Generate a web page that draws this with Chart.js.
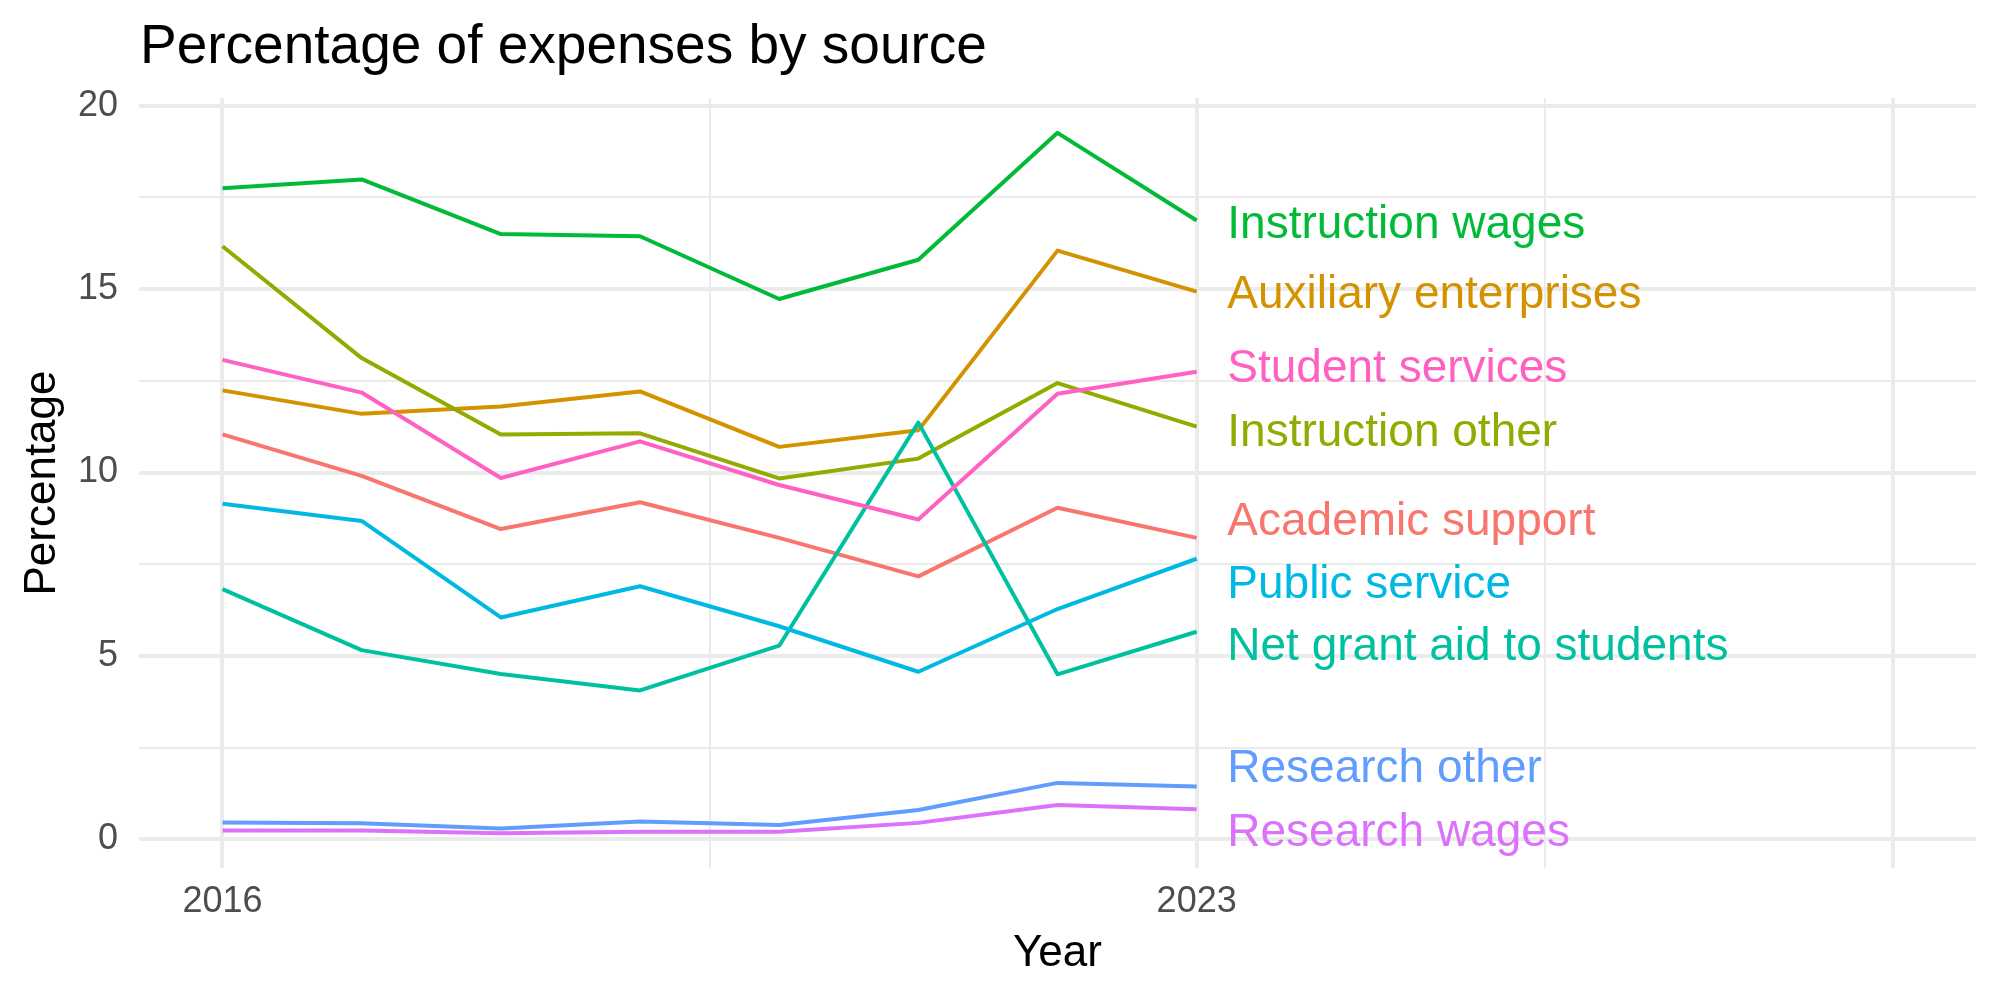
<!DOCTYPE html>
<html lang="en">
<head>
  <meta charset="UTF-8">
  <title>Percentage of expenses by source</title>
  <script src="https://cdn.jsdelivr.net/npm/chart.js"></script>
  <style>
    html, body { margin: 0; padding: 0; background: #ffffff; }
    #wrap { width: 2000px; height: 1000px; }
  </style>
</head>
<body>
  <div id="wrap">
    <canvas id="expenseChart" width="2000" height="1000"></canvas>
  </div>

  <script>
    // data
    const years = [2016, 2017, 2018, 2019, 2020, 2021, 2022, 2023];
    const sources = ['Academic support', 'Auxiliary enterprises', 'Instruction other', 'Instruction wages',
      'Net grant aid to students', 'Public service', 'Research other', 'Research wages', 'Student services'];

    const academicSupport      = [11.04, 9.91, 8.46, 9.19, 8.22, 7.17, 9.04, 8.22];
    const auxiliaryEnterprises = [12.24, 11.60, 11.80, 12.21, 10.70, 11.15, 16.05, 14.93];
    const instructionOther     = [16.17, 13.12, 11.04, 11.07, 9.84, 10.38, 12.44, 11.25];
    const instructionWages     = [17.75, 17.99, 16.50, 16.44, 14.73, 15.80, 19.26, 16.87];
    const netGrantAid          = [6.82, 5.16, 4.51, 4.06, 5.28, 11.36, 4.50, 5.66];
    const publicService        = [9.15, 8.68, 6.05, 6.90, 5.81, 4.57, 6.28, 7.65];
    const researchOther        = [0.46, 0.44, 0.30, 0.49, 0.39, 0.80, 1.54, 1.44];
    const researchWages        = [0.24, 0.24, 0.17, 0.21, 0.21, 0.45, 0.94, 0.82];
    const studentServices      = [13.07, 12.18, 9.85, 10.85, 9.66, 8.72, 12.15, 12.75];

    // where the end labels sit (pushed apart so they don't overlap)
    const labelValues = [8.75, 14.93, 11.18, 16.84, 5.34, 7.04, 2.00, 0.28, 12.93];
    const labelYear = 2023.22;

    // axis breaks
    const xBreaks = [2016, 2019.5, 2023, 2025.5, 2028];
    const xMajorBreaks = [2016, 2023, 2028];
    const xTickLabels = [2016, 2023];

    const seriesValues = [academicSupport, auxiliaryEnterprises, instructionOther, instructionWages,
      netGrantAid, publicService, researchOther, researchWages, studentServices];

    const palette = ['#F8766D', '#D39200', '#93AA00', '#00BA38', '#00C19F', '#00B9E3', '#619CFF', '#DB72FB', '#FF61C3'];
    const gridColor = '#EBEBEB';
    const fontFamily = '"Liberation Sans", Arial, Helvetica, sans-serif';

    Chart.defaults.font.family = fontFamily;

    const datasets = sources.map((name, i) => ({
      label: name,
      data: years.map((yr, j) => ({ x: yr, y: seriesValues[i][j] })),
      borderColor: palette[i],
      backgroundColor: palette[i],
      borderWidth: 4,
      borderJoinStyle: 'round',
      pointRadius: 0,
      tension: 0,
      fill: false,
      order: sources.length - i   // later series drawn on top, like ggplot
    }));

    // title, axis titles and the end-of-line labels
    const textPlugin = {
      id: 'textPlugin',
      afterDatasetsDraw(chart) {
        const { ctx, chartArea, scales } = chart;
        const xs = scales.x, ys = scales.y;
        ctx.save();
        ctx.textBaseline = 'alphabetic';

        ctx.fillStyle = '#000000';
        ctx.textAlign = 'left';
        ctx.font = '55px ' + fontFamily;
        ctx.fillText('Percentage of expenses by source', chartArea.left + 1, 63);

        ctx.font = '44px ' + fontFamily;
        ctx.textAlign = 'center';
        ctx.fillText('Year', (chartArea.left + chartArea.right) / 2, 966);

        ctx.save();
        ctx.translate(55, (chartArea.top + chartArea.bottom) / 2);
        ctx.rotate(-Math.PI / 2);
        ctx.fillText('Percentage', 0, 0);
        ctx.restore();

        const size = 46;
        ctx.font = size + 'px ' + fontFamily;
        ctx.textAlign = 'left';
        sources.forEach((name, i) => {
          ctx.fillStyle = palette[i];
          const px = xs.getPixelForValue(labelYear);
          const py = ys.getPixelForValue(labelValues[i]) + 0.358 * size;
          ctx.fillText(name, px, py);
        });
        ctx.restore();
      }
    };

    const ctx = document.getElementById('expenseChart').getContext('2d');

    new Chart(ctx, {
      type: 'line',
      data: { datasets: datasets },
      options: {
        responsive: false,
        animation: false,
        devicePixelRatio: 1,
        layout: { padding: { top: 98, right: 24, bottom: 0, left: 0 } },
        plugins: {
          legend: { display: false },
          tooltip: { enabled: false },
          title: { display: false }
        },
        scales: {
          x: {
            type: 'linear',
            min: 2015.4,
            max: 2028.6,
            afterBuildTicks: (scale) => { scale.ticks = xBreaks.map(v => ({ value: v })); },
            afterFit: (scale) => { scale.height = 132; },
            border: { display: false },
            grid: {
              color: gridColor,
              drawTicks: false,
              lineWidth: (c) => (c.tick && xMajorBreaks.includes(c.tick.value)) ? 4 : 2
            },
            ticks: {
              autoSkip: false,
              maxRotation: 0,
              padding: 12,
              color: '#4D4D4D',
              font: { size: 36 },
              callback: (v) => xTickLabels.includes(v) ? String(v) : ''
            }
          },
          y: {
            min: -0.78,
            max: 20.21,
            afterFit: (scale) => { scale.width = 139; },
            border: { display: false },
            grid: {
              color: gridColor,
              drawTicks: false,
              lineWidth: (c) => (c.tick && c.tick.value % 5 === 0) ? 4 : 2
            },
            ticks: {
              stepSize: 2.5,
              includeBounds: false,
              padding: 21,
              color: '#4D4D4D',
              font: { size: 36 },
              callback: (v) => v % 5 === 0 ? String(v) : ''
            }
          }
        }
      },
      plugins: [textPlugin]
    });
  </script>
</body>
</html>
